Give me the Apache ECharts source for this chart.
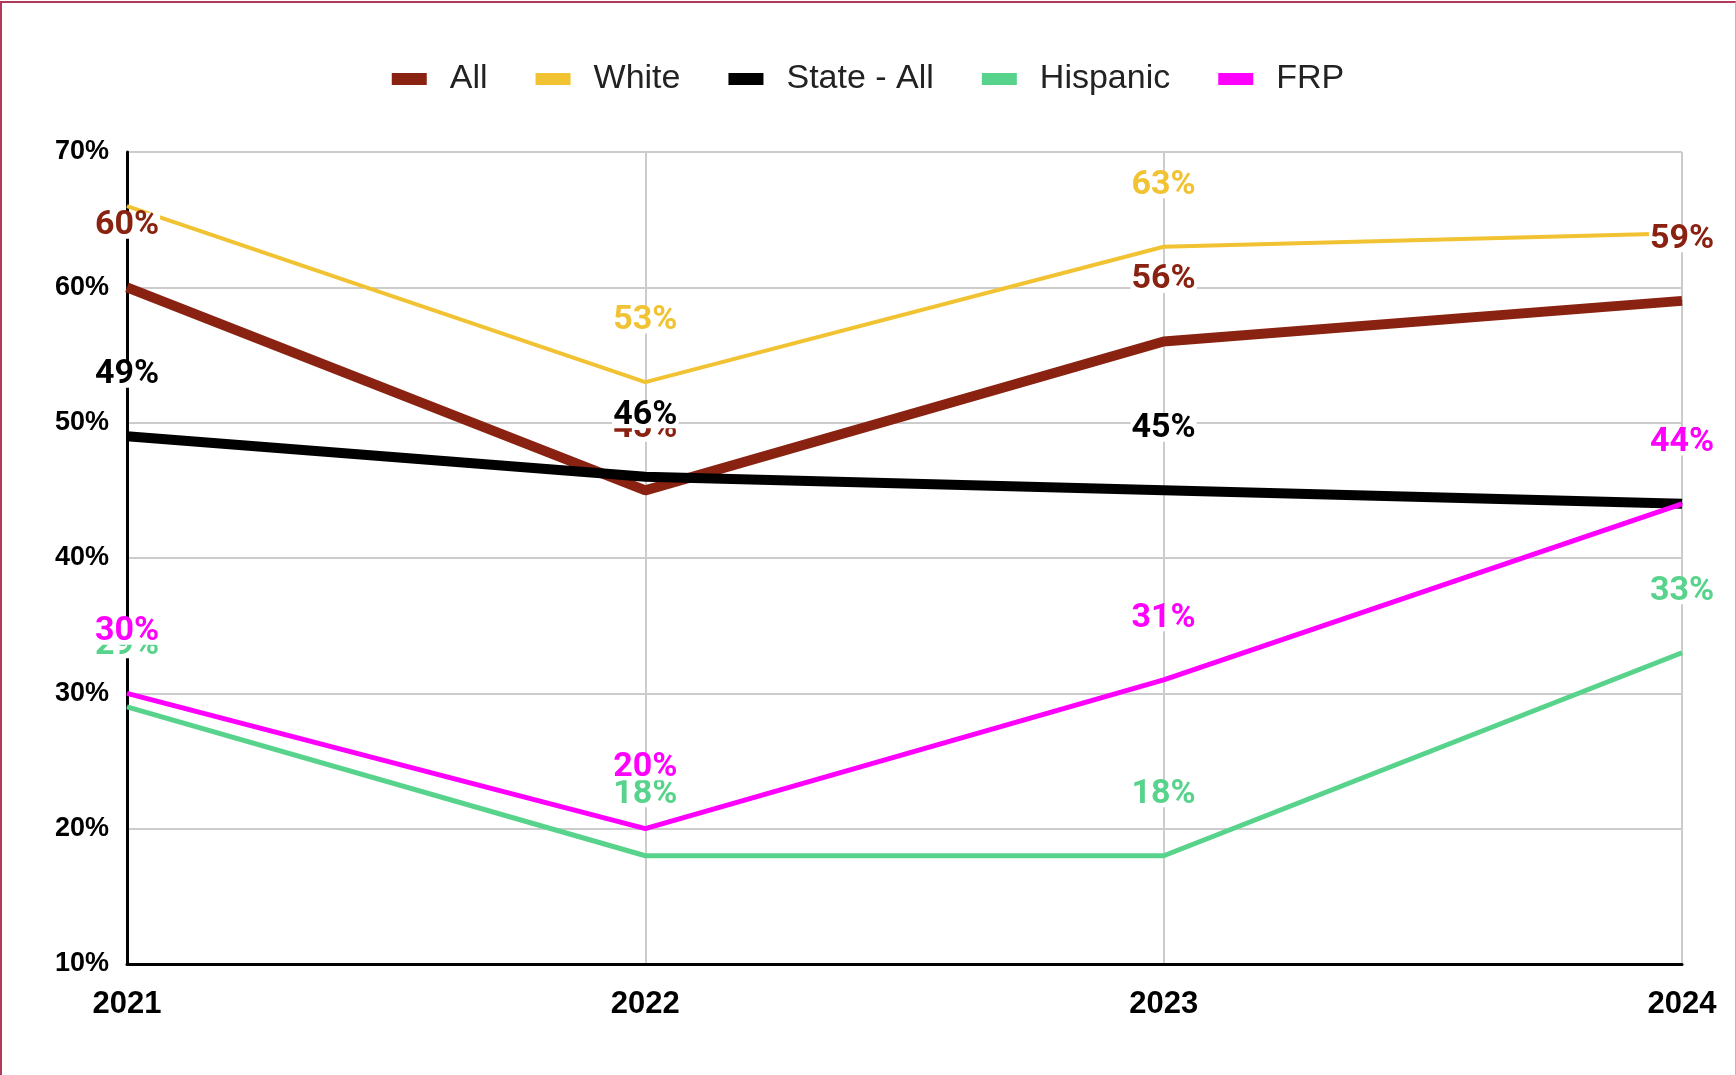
<!DOCTYPE html>
<html>
<head>
<meta charset="utf-8">
<title>Line chart</title>
<script src="https://cdn.jsdelivr.net/npm/echarts@6/dist/echarts.min.js"></script>
<style>
  html, body { margin: 0; padding: 0; background: #fff; }
  #frame {
    position: absolute; left: 0; top: 1px; width: 1736px; height: 1074px;
    box-sizing: border-box;
    border-left: 2px solid #b3395a;
    border-top: 2px solid #b3395a;
    border-right: 1px solid #dcaabb;
  }
  #chart { position: absolute; left: 0; top: 0; width: 1736px; height: 1075px; }
</style>
</head>
<body>
<div id="chart"></div>
<div id="frame"></div>
<script>
const years = ['2021', '2022', '2023', '2024']
const allValues = [60, 45, 56, 59]
const whiteValues = [66, 53, 63, 64]
const stateValues = [49, 46, 45, 44]
const hispanicValues = [29, 18, 18, 33]
const frpValues = [30, 20, 31, 44]
// labels the original chart leaves out
const whiteHiddenLabels = [0, 3]

const seriesDefs = [
  { name: 'All', data: allValues, color: '#8a2211', width: 10 },
  { name: 'White', data: whiteValues, color: '#f1c232', width: 4, hidden: whiteHiddenLabels },
  { name: 'State - All', data: stateValues, color: '#000000', width: 10 },
  { name: 'Hispanic', data: hispanicValues, color: '#57d38c', width: 5 },
  { name: 'FRP', data: frpValues, color: '#ff00ff', width: 5 }
]

const chart = echarts.init(document.getElementById('chart'))

chart.setOption({
  animation: false,
  legend: {
    top: 57,
    left: 'center',
    icon: 'rect',
    itemWidth: 35,
    itemHeight: 12,
    itemGap: 48,
    textStyle: {
      fontFamily: 'Liberation Sans, Arial, sans-serif',
      fontSize: 34,
      color: '#222',
      padding: [0, 0, 0, 18]
    },
    data: seriesDefs.map(s => s.name)
  },
  grid: { left: 127, right: 54, top: 152, bottom: 111 },
  xAxis: {
    type: 'category',
    data: years,
    boundaryGap: false,
    axisLine: { lineStyle: { color: '#000', width: 3 } },
    axisTick: { show: false },
    splitLine: { show: true, lineStyle: { color: '#cccccc', width: 2 } },
    axisLabel: {
      margin: 25,
      fontFamily: 'Liberation Sans, Arial, sans-serif',
      fontWeight: 'bold',
      fontSize: 31,
      color: '#000'
    }
  },
  yAxis: {
    type: 'value',
    min: 10,
    max: 70,
    interval: 10,
    axisLine: { show: true, lineStyle: { color: '#000', width: 3 } },
    axisTick: { show: false },
    splitLine: { lineStyle: { color: '#cccccc', width: 2 } },
    axisLabel: {
      margin: 18,
      padding: [5, 0, 0, 0],
      formatter: '{value}%',
      fontFamily: 'Liberation Sans, Arial, sans-serif',
      fontWeight: 'bold',
      fontSize: 27,
      color: '#000'
    }
  },
  series: seriesDefs.map(s => ({
    name: s.name,
    type: 'line',
    data: s.data.map((v, i) => ({
      value: v,
      label: { show: !(s.hidden && s.hidden.includes(i)) }
    })),
    color: s.color,
    symbol: 'circle',
    symbolSize: 1,
    lineStyle: { color: s.color, width: s.width },
    itemStyle: { color: s.color },
    label: {
      show: true,
      position: 'top',
      distance: 48,
      formatter: '{c}%',
      color: s.color,
      fontFamily: 'Roboto, sans-serif',
      fontWeight: 'bold',
      fontSize: 34,
      lineHeight: 26,
      backgroundColor: '#fff',
      padding: [0, 1]
    }
  }))
})
</script>
</body>
</html>
